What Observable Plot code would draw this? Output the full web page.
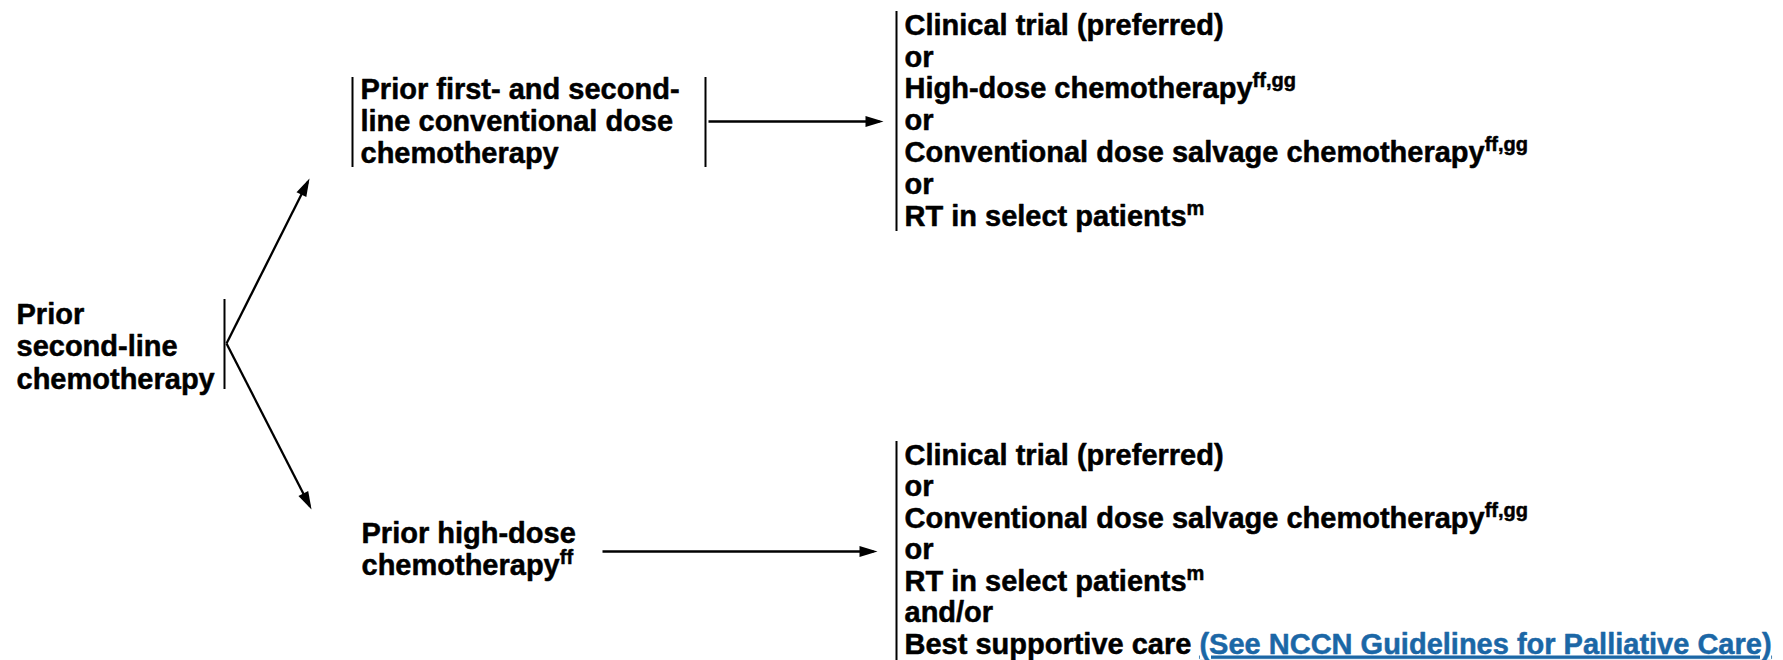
<!DOCTYPE html>
<html><head><meta charset="utf-8">
<script src="https://cdn.jsdelivr.net/npm/d3@7"></script>
<script src="https://cdn.jsdelivr.net/npm/@observablehq/plot@0.6"></script>
<style>body{margin:0;background:#fff;} svg{display:block}</style>
</head><body><div id="chart"></div>
<script>
// ---- content ----
const rootLines = ["Prior", "second-line", "chemotherapy"];
const firstSecondLines = ["Prior first- and second-", "line conventional dose", "chemotherapy"];
const highDoseLines = ["Prior high-dose", "chemotherapy"];
const highDoseSups = [null, "ff"];
const upperOptions = ["Clinical trial (preferred)", "or", "High-dose chemotherapy", "or", "Conventional dose salvage chemotherapy", "or", "RT in select patients"];
const upperSups = [null, null, "ff,gg", null, "ff,gg", null, "m"];
const lowerOptions = ["Clinical trial (preferred)", "or", "Conventional dose salvage chemotherapy", "or", "RT in select patients", "and/or", "Best supportive care "];
const lowerSups = [null, null, "ff,gg", null, "m", null, null];
const lowerLinks = [null, null, null, null, null, null, "(See NCCN Guidelines for Palliative Care)"];

// ---- layout (diagram coordinates, px) ----
const blocks = [
  {lines: rootLines, x: 16, y0: 314, gap: 32.5},
  {lines: firstSecondLines, x: 360, y0: 89, gap: 32},
  {lines: highDoseLines, sups: highDoseSups, x: 361, y0: 533, gap: 32},
  {lines: upperOptions, sups: upperSups, x: 904, y0: 25, gap: 31.8},
  {lines: lowerOptions, sups: lowerSups, links: lowerLinks, x: 904, y0: 455, gap: 31.5}
];
const bars = [
  {x: 224, y1: 299, y2: 389},
  {x: 352, y1: 77, y2: 167},
  {x: 705, y1: 77, y2: 167},
  {x: 896, y1: 11, y2: 231},
  {x: 896, y1: 441, y2: 660}
];
const arrows = [
  {x1: 226, y1: 343, x2: 307.2, y2: 181.6},
  {x1: 226, y1: 343, x2: 309.2, y2: 505.4},
  {x1: 708, y1: 121, x2: 879, y2: 121},
  {x1: 602, y1: 551, x2: 873, y2: 551}
];
const linkColor = "#1b67a6";

const rows = blocks.flatMap(b => b.lines.map((t, i) => ({
  text: t, sup: b.sups ? b.sups[i] : null, link: b.links ? b.links[i] : null,
  x: b.x, y: b.y0 + i * b.gap
})));

const plot = Plot.plot({
  width: 1783, height: 660, margin: 0,
  style: {fontFamily: "'Liberation Sans', Arial, sans-serif", background: "#fff"},
  x: {domain: [0, 1783], axis: null},
  y: {domain: [0, 660], range: [0, 660], axis: null},
  marks: [
    Plot.ruleX(bars, {x: "x", y1: "y1", y2: "y2", stroke: "#000", strokeWidth: 2}),
    Plot.link(arrows, {x1: "x1", y1: "y1", x2: "x2", y2: "y2", stroke: "#000", strokeWidth: 2.3}),
    Plot.text(rows, {x: "x", y: "y", text: "text", textAnchor: "start", lineAnchor: "middle",
      fontSize: 29, fontWeight: "bold", fill: "#000", stroke: "#000", strokeWidth: 0.5})
  ]
});
document.getElementById("chart").appendChild(plot);

const svg = d3.select(plot);
const defs = svg.insert("defs", ":first-child");
defs.append("marker").attr("id", "ah").attr("viewBox", "-20 -8 24 16")
  .attr("markerUnits", "userSpaceOnUse").attr("markerWidth", 24).attr("markerHeight", 16)
  .attr("refX", -4).attr("refY", 0).attr("orient", "auto")
  .append("path").attr("d", "M0,0L-18,-5.5L-18,5.5Z").attr("fill", "#000");
svg.selectAll('g[aria-label="link"] path').attr("marker-end", "url(#ah)");

svg.selectAll('g[aria-label="text"] text').nodes().forEach((el, i) => {
  const r = rows[i];
  if (!r) return;
  if (r.sup) d3.select(el).append("tspan").attr("dy", -11).attr("font-size", 20).text(r.sup);
  if (r.link) d3.select(el).append("tspan").attr("fill", linkColor).attr("stroke", linkColor)
    .attr("text-decoration", "underline").style("text-decoration", "underline").text(r.link);
});
</script></body></html>
